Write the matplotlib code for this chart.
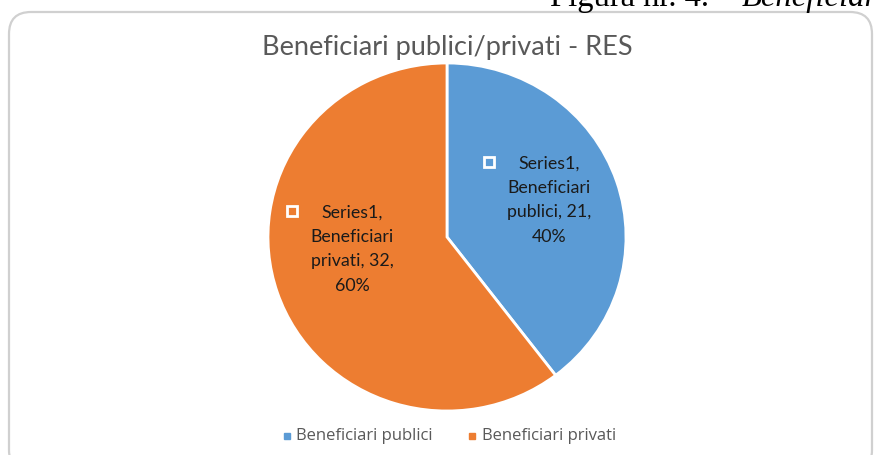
import matplotlib
matplotlib.use("Agg")
import matplotlib.pyplot as plt
from matplotlib.patches import FancyBboxPatch

# data
series_name = "Series1"
categories = ["Beneficiari publici", "Beneficiari privati"]
values = [21, 32]
colors = ["#5B9BD5", "#ED7D31"]
title = "Beneficiari publici/privati - RES"
caption = "Figura nr. 4. \u2013"
caption_it = "Beneficiari"

W, H = 875, 455
fig = plt.figure(figsize=(W / 100, H / 100), dpi=100)

# background layer in pixel coordinates (y down)
bg = fig.add_axes([0, 0, 1, 1])
bg.set_xlim(0, W)
bg.set_ylim(H, 0)
bg.axis("off")

box = FancyBboxPatch((9, 12), 863, 460, boxstyle="round,pad=0,rounding_size=22",
                     facecolor="white", edgecolor="#d0d0d0", linewidth=1.6)
bg.add_patch(box)

# caption of the document, cut by the top edge as in the source
bg.text(550, 6, caption, family="Liberation Serif", fontsize=23.5, color="black",
        va="baseline", ha="left")
bg.text(742, 6, caption_it, family="Liberation Serif", style="italic", fontsize=23.5,
        color="black", va="baseline", ha="left")

bg.text(447, 47, title, family="Lato", fontsize=19.5, color="#595959",
        ha="center", va="center")

# pie axes: center (447, 237), rx 179, ry 174 in pixels
cx, cy, rx, ry = 447, 237, 179, 174
ax = fig.add_axes([(cx - rx) / W, (H - cy - ry) / H, 2 * rx / W, 2 * ry / H])
ax.pie(values, colors=colors, startangle=90, counterclock=False, radius=1,
       wedgeprops=dict(edgecolor="white", linewidth=2))
ax.set_aspect("auto")
ax.set_xlim(-1, 1)
ax.set_ylim(-1, 1)
ax.axis("off")

# top layer for data labels and legend
top = fig.add_axes([0, 0, 1, 1])
top.set_xlim(0, W)
top.set_ylim(H, 0)
top.axis("off")
top.patch.set_alpha(0)

total = sum(values)
label_pos = [(549, 200), (352, 249)]
marker_pos = [(489, 162), (292, 211)]
for i, v in enumerate(values):
    pct = round(100 * v / total)
    first, second = categories[i].split()
    txt = f"{series_name},\n{first}\n{second}, {v},\n{pct}%"
    top.text(label_pos[i][0], label_pos[i][1], txt, family="Lato", fontsize=12.8,
             color="#1a1a1a", ha="center", va="center", linespacing=1.65)
    top.plot(marker_pos[i][0], marker_pos[i][1], marker="s", markersize=7,
             markerfacecolor=colors[i], markeredgecolor="white", markeredgewidth=2)

# legend
leg_items = [(287, 296), (472, 482)]
for i, cat in enumerate(categories):
    mx, tx = leg_items[i]
    top.plot(mx, 436, marker="s", markersize=5, color=colors[i])
    top.text(tx, 436, cat, family="Open Sans", fontsize=12, color="#595959",
             ha="left", va="center")

fig.savefig("out.png", dpi=100)
